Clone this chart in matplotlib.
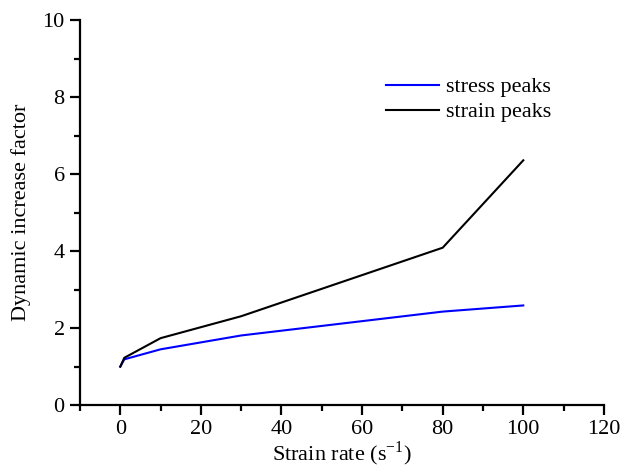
import matplotlib.pyplot as plt
from matplotlib.ticker import MultipleLocator

plt.rcParams['font.family'] = ['Liberation Serif', 'DejaVu Serif']

# strain rate (1/s)
rate = [0, 1, 10, 30, 80, 100]
stress_dif = [1.0, 1.19, 1.45, 1.81, 2.43, 2.59]
strain_dif = [1.0, 1.23, 1.74, 2.31, 4.09, 6.36]

fig = plt.figure(figsize=(6.2, 4.7), dpi=100)
ax = fig.add_axes([0.129, 0.138, 0.845, 0.819])

ax.plot(rate, stress_dif, color='#0000ff', lw=1.5, label='stress peaks')
ax.plot(rate, strain_dif, color='black', lw=1.5, label='strain peaks')

ax.set_xlim(-10, 120)
ax.set_ylim(0, 10)
ax.xaxis.set_major_locator(MultipleLocator(20))
ax.xaxis.set_minor_locator(MultipleLocator(10))
ax.yaxis.set_major_locator(MultipleLocator(2))
ax.yaxis.set_minor_locator(MultipleLocator(1))

for s in ['top', 'right']:
    ax.spines[s].set_visible(False)
for s in ['left', 'bottom']:
    ax.spines[s].set_linewidth(1.6)
ax.tick_params(which='major', length=7, width=1.6, labelsize=16, pad=4)
ax.tick_params(which='minor', length=4, width=1.6)

ax.set_xlabel('Strain rate (s$^{\\mathregular{-1}}$)', fontsize=16, labelpad=0)
ax.set_ylabel('Dynamic increase factor', fontsize=16, labelpad=8)

ax.legend(loc='upper left', bbox_to_anchor=(0.545, 0.905), frameon=False,
          fontsize=16, handlelength=2.4, handletextpad=0.3, labelspacing=0.2)

fig.savefig('out.png', dpi=100)
